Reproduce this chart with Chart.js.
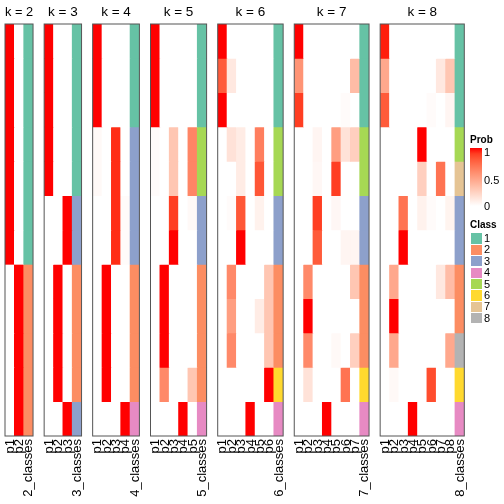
<!DOCTYPE html>
<html>
<head>
<meta charset="utf-8">
<script src="https://cdn.jsdelivr.net/npm/chart.js@4.4.0/dist/chart.umd.min.js"></script>
<style>
  body { margin: 0; background: #fff; width: 504px; height: 504px; overflow: hidden; position: relative;
         font-family: "Liberation Sans", Arial, sans-serif; }
  canvas.panel { position: absolute; top: 0; }
  .lg { position: absolute; left: 0; top: 0; white-space: nowrap; color: #000; }
  .lgTitle { font-weight: bold; font-size: 10px; line-height: 13px; }
  .lgText { font-size: 11px; line-height: 13px; }
</style>
</head>
<body>
<script>
"use strict";

// membership probabilities, one row per sample, one column per class p1..pk
const prob2 = [
  [1, 0], [1, 0], [1, 0], [1, 0], [1, 0], [1, 0], [1, 0],
  [0, 1], [0, 1], [0, 1], [0, 1], [0, 1]
];
const class2 = [1, 1, 1, 1, 1, 1, 1, 2, 2, 2, 2, 2];

const prob3 = [
  [1, 0, 0], [1, 0, 0], [1, 0, 0], [1, 0, 0], [1, 0, 0],
  [0, 0, 1], [0, 0, 1],
  [0, 1, 0], [0, 1, 0], [0, 1, 0], [0, 1, 0],
  [0, 0, 1]
];
const class3 = [1, 1, 1, 1, 1, 3, 3, 2, 2, 2, 2, 3];

const prob4 = [
  [1, 0, 0, 0], [1, 0, 0, 0], [1, 0, 0, 0],
  [0.03, 0, 0.94, 0], [0.03, 0, 0.94, 0],
  [0, 0, 0.94, 0.02], [0, 0, 0.94, 0.02],
  [0, 1, 0, 0], [0, 1, 0, 0], [0, 1, 0, 0], [0, 1, 0, 0],
  [0, 0, 0, 1]
];
const class4 = [1, 1, 1, 3, 3, 3, 3, 2, 2, 2, 2, 4];

const prob5 = [
  [1, 0, 0, 0, 0], [1, 0, 0, 0, 0], [1, 0, 0, 0, 0],
  [0.02, 0, 0.3, 0, 0.62], [0.02, 0, 0.3, 0, 0.62],
  [0, 0, 0.9, 0, 0.03], [0, 0, 1, 0, 0],
  [0, 1, 0, 0, 0], [0, 1, 0, 0, 0], [0, 1, 0, 0, 0],
  [0, 0.6, 0, 0, 0.3],
  [0, 0, 0, 1, 0]
];
const class5 = [1, 1, 1, 5, 5, 3, 3, 2, 2, 2, 2, 4];

const prob6 = [
  [1, 0, 0, 0, 0, 0],
  [0.8, 0.12, 0, 0, 0, 0],
  [1, 0, 0, 0, 0, 0],
  [0, 0.15, 0.1, 0, 0.65, 0],
  [0, 0, 0.1, 0, 0.82, 0],
  [0, 0.02, 0.82, 0, 0.07, 0],
  [0, 0, 1, 0, 0, 0],
  [0, 0.6, 0, 0, 0, 0.3],
  [0, 0.5, 0, 0, 0.1, 0.3],
  [0, 0.6, 0, 0, 0, 0.3],
  [0, 0, 0, 0, 0, 1],
  [0, 0, 0, 1, 0, 0]
];
const class6 = [1, 1, 1, 5, 5, 3, 3, 2, 2, 2, 6, 4];

const prob7 = [
  [1, 0, 0, 0, 0, 0, 0],
  [0.55, 0, 0, 0, 0, 0, 0.35],
  [0.9, 0, 0, 0, 0, 0.02, 0],
  [0, 0, 0.05, 0, 0.5, 0.15, 0.25],
  [0, 0, 0.04, 0, 0.9, 0, 0],
  [0, 0, 0.9, 0, 0.04, 0, 0],
  [0, 0, 0.8, 0, 0, 0.05, 0.05],
  [0, 0.6, 0, 0, 0, 0, 0.3],
  [0, 1, 0, 0, 0, 0, 0],
  [0, 0.6, 0, 0, 0.03, 0, 0.25],
  [0, 0.15, 0, 0, 0, 0.7, 0],
  [0, 0, 0, 1, 0, 0, 0]
];
const class7 = [1, 1, 1, 5, 5, 3, 3, 2, 2, 2, 6, 4];

const prob8 = [
  [0.97, 0, 0, 0, 0, 0, 0, 0],
  [0.45, 0, 0, 0, 0, 0, 0.12, 0.3],
  [0.8, 0, 0, 0, 0, 0.02, 0, 0.05],
  [0, 0, 0, 0, 1, 0, 0, 0],
  [0, 0, 0, 0, 0.25, 0, 0.7, 0],
  [0, 0, 0.7, 0, 0.07, 0.02, 0, 0.06],
  [0, 0, 1, 0, 0, 0, 0, 0],
  [0, 0.45, 0, 0, 0, 0, 0.12, 0.35],
  [0, 1, 0, 0, 0, 0, 0, 0],
  [0, 0.45, 0, 0, 0, 0, 0, 0.45],
  [0, 0.03, 0, 0, 0, 0.85, 0, 0],
  [0, 0, 0, 1, 0, 0, 0, 0]
];
const class8 = [1, 1, 1, 5, 7, 3, 3, 2, 2, 8, 6, 4];

const kValues = [2, 3, 4, 5, 6, 7, 8];
const probSets = [prob2, prob3, prob4, prob5, prob6, prob7, prob8];
const classSets = [class2, class3, class4, class5, class6, class7, class8];

const classNames = ["1", "2", "3", "4", "5", "6", "7", "8"];
const classColors = ["#66C2A5", "#FC8D62", "#8DA0CB", "#E78AC3", "#A6D854", "#FFD92F", "#E5C494", "#B3B3B3"];
const probTicks = ["1", "0.5", "0"];

const FONT = "'Liberation Sans', Arial, sans-serif";

// white -> red in LAB, like colorRamp2
function toLin(c) { c /= 255; return c <= 0.04045 ? c / 12.92 : Math.pow((c + 0.055) / 1.055, 2.4); }
function toSrgb(c) {
  c = c <= 0.0031308 ? 12.92 * c : 1.055 * Math.pow(c, 1 / 2.4) - 0.055;
  return Math.round(Math.max(0, Math.min(1, c)) * 255);
}
function rgbToLab(rgb) {
  const [r, g, b] = rgb.map(toLin);
  let x = (0.4124 * r + 0.3576 * g + 0.1805 * b) / 0.95047;
  let y = (0.2126 * r + 0.7152 * g + 0.0722 * b);
  let z = (0.0193 * r + 0.1192 * g + 0.9505 * b) / 1.08883;
  const f = t => t > 0.008856 ? Math.cbrt(t) : 7.787 * t + 16 / 116;
  x = f(x); y = f(y); z = f(z);
  return [116 * y - 16, 500 * (x - y), 200 * (y - z)];
}
function labToRgb(lab) {
  const fy = (lab[0] + 16) / 116, fx = fy + lab[1] / 500, fz = fy - lab[2] / 200;
  const fi = t => t > 0.206893 ? t * t * t : (t - 16 / 116) / 7.787;
  const x = fi(fx) * 0.95047, y = fi(fy), z = fi(fz) * 1.08883;
  const r = 3.2406 * x - 1.5372 * y - 0.4986 * z;
  const g = -0.9689 * x + 1.8758 * y + 0.0415 * z;
  const b = 0.0557 * x - 0.2040 * y + 1.0570 * z;
  return [toSrgb(r), toSrgb(g), toSrgb(b)];
}
const labWhite = rgbToLab([255, 255, 255]);
const labRed = rgbToLab([255, 0, 0]);
function probColor(v) {
  const lab = labWhite.map((w, i) => w + (labRed[i] - w) * v);
  const c = labToRgb(lab);
  return `rgb(${c[0]},${c[1]},${c[2]})`;
}

// border round the panel + column names written downwards under it
const panelPlugin = {
  id: "panelDeco",
  afterDatasetsDraw(chart) {
    const a = chart.chartArea;
    const ctx = chart.ctx;
    ctx.save();
    ctx.strokeStyle = "#555";
    ctx.lineWidth = 1;
    ctx.strokeRect(a.left, a.top, a.right - a.left, a.bottom - a.top);

    const xs = chart.scales.x;
    ctx.fillStyle = "#000";
    ctx.font = "13px " + FONT;
    ctx.textAlign = "right";
    ctx.textBaseline = "middle";
    chart.data.labels.forEach((lab, i) => {
      ctx.save();
      ctx.translate(xs.getPixelForValue(i) + 0.5, a.bottom + 3);
      ctx.rotate(-Math.PI / 2);
      ctx.fillText(lab, 0, 0);
      ctx.restore();
    });
    ctx.restore();
  }
};

const colW = 9.35, gapW = 11.1, pad = 8;
let panelLeft = 5;

kValues.forEach((k, idx) => {
  const probs = probSets[idx];
  const cls = classSets[idx];
  const nRow = probs.length;
  const labels = [];
  for (let j = 1; j <= k; j++) labels.push("p" + j);
  labels.push(k + "_classes");

  const w = labels.length * colW;
  const cLeft = Math.floor(panelLeft - pad);
  const cRight = Math.ceil(panelLeft + w + pad);
  const padL = panelLeft - cLeft;
  const padR = cRight - (panelLeft + w);

  const cv = document.createElement("canvas");
  cv.className = "panel";
  cv.width = cRight - cLeft;
  cv.height = 504;
  cv.style.left = cLeft + "px";
  document.body.appendChild(cv);

  const datasets = [];
  for (let r = 0; r < nRow; r++) {
    const colors = probs[r].map(probColor);
    colors.push(classColors[cls[r] - 1]);
    datasets.push({
      data: labels.map(() => [r, r + 1]),
      backgroundColor: colors,
      borderWidth: 0,
      grouped: false,
      barPercentage: 1,
      categoryPercentage: 1
    });
  }

  new Chart(cv, {
    type: "bar",
    data: { labels: labels, datasets: datasets },
    options: {
      responsive: false,
      animation: false,
      layout: { padding: { left: padL, right: padR, top: 0, bottom: 0 } },
      plugins: {
        legend: { display: false },
        tooltip: { enabled: false },
        title: {
          display: true,
          text: "k = " + k,
          color: "#000",
          font: { family: FONT, size: 13.5, weight: "normal", lineHeight: 1.2 },
          padding: { top: 4, bottom: 3.8 }
        }
      },
      scales: {
        x: {
          type: "category",
          grid: { display: false },
          border: { display: false },
          ticks: { display: false },
          afterFit(scale) { scale.height = 68; }
        },
        y: {
          type: "linear",
          min: 0,
          max: nRow,
          reverse: true,
          display: false
        }
      }
    },
    plugins: [panelPlugin]
  });

  panelLeft += w + gapW;
});

// legends on the right
function addText(txt, cls, left, centerY) {
  const d = document.createElement("div");
  d.className = "lg " + cls;
  d.textContent = txt;
  d.style.left = left + "px";
  d.style.top = (centerY - 6.5) + "px";
  document.body.appendChild(d);
}

addText("Prob", "lgTitle", 470, 139);
const bar = document.createElement("div");
bar.className = "lg";
const stops = [];
for (let i = 0; i <= 10; i++) stops.push(probColor(1 - i / 10) + " " + (i * 10) + "%");
bar.style.left = "470px";
bar.style.top = "148px";
bar.style.width = "11.5px";
bar.style.height = "58px";
bar.style.background = "linear-gradient(to bottom, " + stops.join(", ") + ")";
document.body.appendChild(bar);
const tickY = [152, 180, 206];
probTicks.forEach((t, i) => addText(t, "lgText", 484, tickY[i]));

addText("Class", "lgTitle", 470, 224);
classNames.forEach((name, i) => {
  const cy = 238.5 + i * 11.4;
  const sw = document.createElement("div");
  sw.className = "lg";
  sw.style.left = "470.5px";
  sw.style.top = (cy - 5.2) + "px";
  sw.style.width = "11px";
  sw.style.height = "10.4px";
  sw.style.background = classColors[i];
  document.body.appendChild(sw);
  addText(name, "lgText", 484, cy);
});
</script>
</body>
</html>
